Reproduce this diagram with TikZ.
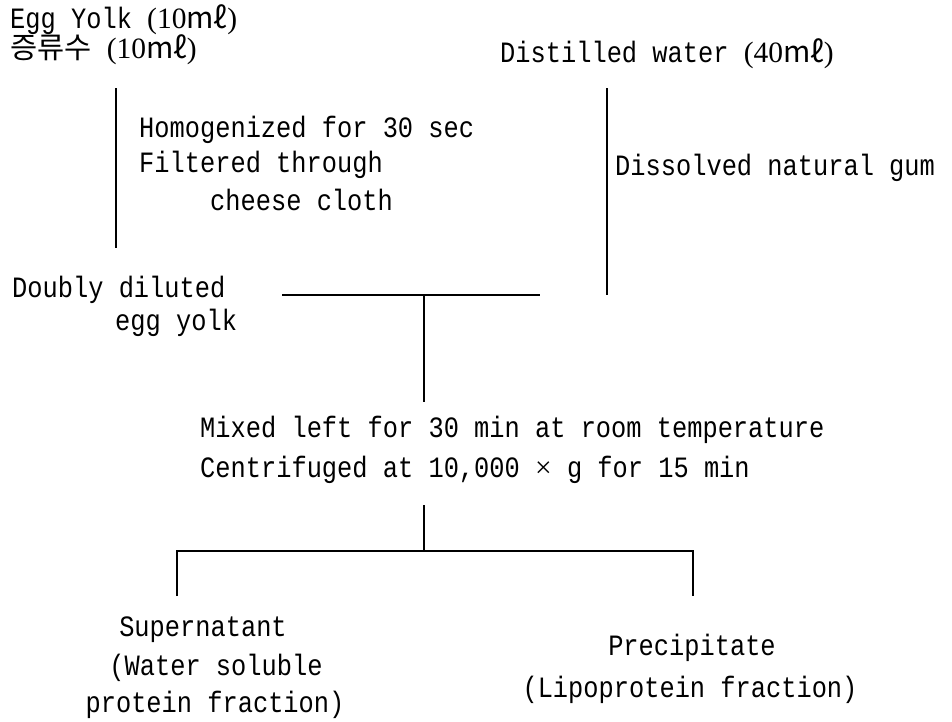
\documentclass[tikz,border=0pt]{standalone}
\usepackage{fontspec}
\setmainfont{Liberation Mono}[FakeStretch=0.86]
\newfontfamily\cjk{Noto Sans CJK KR}
\newfontfamily\lser{Liberation Serif}
\newcommand{\vol}[1]{{\lser (#1{\cjk mℓ})}}
\tikzset{
  txt/.style={inner sep=0pt, anchor=west, font=\fontsize{29.5}{34}\selectfont},
  ln/.style={line width=1.8pt, line cap=butt}
}
\begin{document}
\begin{tikzpicture}[x=1pt,y=-1pt]
\useasboundingbox (0,0) rectangle (952,721);
% texts
\node[txt] (egg) at (10,20) {Egg Yolk \vol{10}};
\node[txt] (dw1) at (10,50) {{\cjk 증류수} \vol{10}};
\node[txt] (dw2) at (500,54) {Distilled water \vol{40}};
\node[txt] (hom) at (139,130) {Homogenized for 30 sec};
\node[txt] (fil) at (139,165) {Filtered through};
\node[txt] (che) at (210,200) {cheese cloth};
\node[txt] (gum) at (615,168) {Dissolved natural gum};
\node[txt] (dd1) at (12,290) {Doubly diluted};
\node[txt] (dd2) at (115,323) {egg yolk};
\node[txt] (mix) at (200,430) {Mixed left for 30 min at room temperature};
\node[txt] (cen) at (200,470) {Centrifuged at 10,000 {\lser ×} g for 15 min};
\node[txt, anchor=center] (sup1) at (203,630) {Supernatant};
\node[txt, anchor=center] (sup2) at (216,668) {(Water soluble};
\node[txt, anchor=center] (sup3) at (215,705) {protein fraction)};
\node[txt, anchor=center] (pre1) at (692,648) {Precipitate};
\node[txt, anchor=center] (pre2) at (690,690) {(Lipoprotein fraction)};
% connector coordinates
\coordinate (l1a) at (116,88);
\coordinate (l1b) at (116,248);
\coordinate (r1a) at (607,88);
\coordinate (r1b) at (607,295);
\coordinate (ha) at (282,295);
\coordinate (hb) at (540,295);
\coordinate (hm) at (424,295);
\coordinate (hd) at (424,402);
\coordinate (ca) at (424,505);
\coordinate (cb) at (424,551);
\coordinate (bl) at (177,551);
\coordinate (br) at (693,551);
\coordinate (bld) at (177,596);
\coordinate (brd) at (693,596);
\draw[ln] (l1a) -- (l1b);
\draw[ln] (r1a) -- (r1b);
\draw[ln] (ha) -- (hb);
\draw[ln] (hm) -- (hd);
\draw[ln] (ca) -- (cb);
\draw[ln] (bld) -- (bl) -- (br) -- (brd);
\end{tikzpicture}
\end{document}
